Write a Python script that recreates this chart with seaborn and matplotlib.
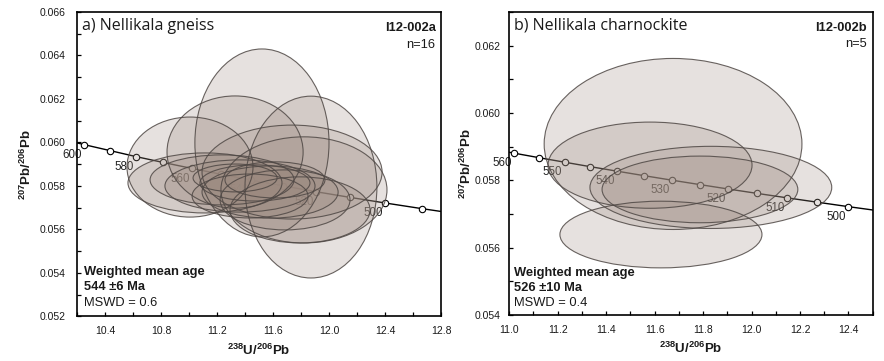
import matplotlib
matplotlib.use("Agg")
import matplotlib.pyplot as plt
from matplotlib.patches import Ellipse
from matplotlib.ticker import MultipleLocator, FormatStrFormatter
import seaborn as sns

# ---- Concordia reference curve (Tera-Wasserburg), age markers in Ma ----
conc_a_age = [610, 600, 590, 580, 570, 560, 550, 540, 530, 520, 510, 500, 490, 480]
conc_a_x = [10.076, 10.252, 10.434, 10.622, 10.817, 11.019, 11.228, 11.445, 11.670,
            11.904, 12.147, 12.399, 12.662, 12.936]
conc_a_y = [0.06018, 0.05990, 0.05963, 0.05935, 0.05908, 0.05881, 0.05854, 0.05827,
            0.05801, 0.05774, 0.05748, 0.05722, 0.05696, 0.05670]
conc_a_labels = [600, 580, 560, 540, 520, 500]

conc_b_age = [565, 560, 555, 550, 545, 540, 535, 530, 525, 520, 515, 510, 505, 500, 495]
conc_b_x = [10.917, 11.019, 11.122, 11.228, 11.335, 11.445, 11.556, 11.670, 11.786,
            11.904, 12.024, 12.147, 12.272, 12.399, 12.530]
conc_b_y = [0.058943, 0.058808, 0.058674, 0.058539, 0.058405, 0.058272, 0.058139,
            0.058006, 0.057874, 0.057742, 0.057611, 0.057480, 0.057350, 0.057219,
            0.057090]
conc_b_labels = [560, 550, 540, 530, 520, 510, 500]

# ---- Zircon spot ellipses: centre and half-axes (2 sigma) ----
# I12-002a, Nellikala gneiss (n=16)
gn_x = [11.521, 11.871, 11.329, 11.007, 11.736, 11.821, 11.114, 11.236,
        11.364, 11.471, 11.579, 11.436, 11.686, 11.614, 11.329, 11.793]
gn_y = [0.05998, 0.05795, 0.05956, 0.05887, 0.05864, 0.05782, 0.05814, 0.05828,
        0.05800, 0.05814, 0.05772, 0.05754, 0.05736, 0.05828, 0.05837, 0.05690]
gn_ex = [0.479, 0.471, 0.486, 0.450, 0.643, 0.593, 0.550, 0.514,
         0.536, 0.393, 0.486, 0.414, 0.464, 0.357, 0.300, 0.500]
gn_ey = [0.00432, 0.00418, 0.00258, 0.00230, 0.00216, 0.00244, 0.00138, 0.00115,
         0.00120, 0.00083, 0.00120, 0.00101, 0.00138, 0.00083, 0.00064, 0.00152]

# I12-002b, Nellikala charnockite (n=5)
ch_x = [11.676, 11.581, 11.832, 11.787, 11.626]
ch_y = [0.05908, 0.05845, 0.05779, 0.05773, 0.05639]
ch_ex = [0.532, 0.421, 0.499, 0.404, 0.417]
ch_ey = [0.00254, 0.00128, 0.00122, 0.00099, 0.00099]

sns.set_theme(style="ticks")
plt.rcParams["font.family"] = ["Liberation Sans", "DejaVu Sans"]
plt.rcParams["mathtext.fontset"] = "custom"
plt.rcParams["mathtext.rm"] = "Liberation Sans"
plt.rcParams["mathtext.bf"] = "Liberation Sans:bold"
plt.rcParams["text.color"] = "#1a1a1a"
plt.rcParams["axes.labelcolor"] = "#1a1a1a"
plt.rcParams["xtick.labelcolor"] = "#1a1a1a"
plt.rcParams["ytick.labelcolor"] = "#1a1a1a"

fig = plt.figure(figsize=(8.84, 3.61), dpi=100)
ax_a = fig.add_axes([0.0871, 0.1233, 0.4118, 0.8435])
ax_b = fig.add_axes([0.5761, 0.1274, 0.4111, 0.8394])

FACE = "#9c8a80"
EDGE = "#4f4845"


def concordia(ax, xs, ys, ages, labels):
    sns.lineplot(x=xs, y=ys, ax=ax, sort=False, color="black", lw=1.0,
                 marker="o", markersize=4.6, markerfacecolor="white",
                 markeredgecolor="black", markeredgewidth=0.8, zorder=1)
    for age, x, y in zip(ages, xs, ys):
        if age in labels:
            ax.annotate(str(age), (x, y), xytext=(-1.5, -3.0), textcoords="offset points",
                        ha="right", va="top", fontsize=8.3, color="#222222",
                        zorder=1, annotation_clip=True)


def ellipses(ax, xs, ys, exs, eys):
    for x, y, ex, ey in zip(xs, ys, exs, eys):
        ax.add_patch(Ellipse((x, y), 2 * ex, 2 * ey, facecolor=FACE, alpha=0.25,
                             edgecolor="none", zorder=2))
        ax.add_patch(Ellipse((x, y), 2 * ex, 2 * ey, facecolor="none",
                             edgecolor=EDGE, lw=0.8, alpha=0.85, zorder=3))


def style(ax, xlim, ylim, xmaj, xmin, ypad, xpad):
    ax.set_xlim(*xlim)
    ax.set_ylim(*ylim)
    ax.xaxis.set_major_locator(MultipleLocator(xmaj))
    ax.xaxis.set_minor_locator(MultipleLocator(xmin))
    ax.yaxis.set_major_locator(MultipleLocator(0.002))
    ax.yaxis.set_minor_locator(MultipleLocator(0.001))
    ax.xaxis.set_major_formatter(FormatStrFormatter("%.1f"))
    ax.yaxis.set_major_formatter(FormatStrFormatter("%.3f"))
    ax.tick_params(which="both", direction="in", length=2.6, width=0.9, color="black",
                   top=False, right=False)
    ax.tick_params(axis="y", which="major", labelsize=7.5, pad=ypad)
    ax.tick_params(axis="x", which="major", labelsize=7.5, pad=xpad)
    for s in ax.spines.values():
        s.set_linewidth(1.2)
        s.set_color("black")
        s.set_visible(True)
    ax.set_facecolor("white")
    ax.set_xlabel(r"$\mathbf{^{238}U/^{206}Pb}$", fontsize=9.5)
    ax.set_ylabel(r"$\mathbf{^{207}Pb/^{206}Pb}$", fontsize=9.5)


# ---- panel a ----
concordia(ax_a, conc_a_x, conc_a_y, conc_a_age, conc_a_labels)
ellipses(ax_a, gn_x, gn_y, gn_ex, gn_ey)
style(ax_a, (10.2, 12.8), (0.052, 0.066), 0.4, 0.2, ypad=8.5, xpad=7)
ax_a.xaxis.set_label_coords(0.5, -0.085)
ax_a.yaxis.set_label_coords(-0.118, 0.5)

ax_a.text(0.014, 0.955, "a) Nellikala gneiss", transform=ax_a.transAxes,
          fontsize=11.5, family=["Open Sans", "DejaVu Sans"], ha="left", va="center")
ax_a.text(0.985, 0.948, "I12-002a", transform=ax_a.transAxes, fontsize=9.3,
          fontweight="bold", ha="right", va="center")
ax_a.text(0.985, 0.893, "n=16", transform=ax_a.transAxes, fontsize=9.3,
          ha="right", va="center")
ax_a.text(0.019, 0.147, "Weighted mean age", transform=ax_a.transAxes, fontsize=9.3,
          fontweight="bold", ha="left", va="center")
ax_a.text(0.019, 0.097, "544 \u00b16 Ma", transform=ax_a.transAxes, fontsize=9.3,
          fontweight="bold", ha="left", va="center")
ax_a.text(0.019, 0.045, "MSWD = 0.6", transform=ax_a.transAxes, fontsize=9.3,
          ha="left", va="center")

# ---- panel b ----
concordia(ax_b, conc_b_x, conc_b_y, conc_b_age, conc_b_labels)
ellipses(ax_b, ch_x, ch_y, ch_ex, ch_ey)
style(ax_b, (11.0, 12.5), (0.054, 0.063), 0.2, 0.1, ypad=6.5, xpad=7)
ax_b.xaxis.set_label_coords(0.5, -0.085)
ax_b.yaxis.set_label_coords(-0.098, 0.5)

ax_b.text(0.014, 0.955, "b) Nellikala charnockite", transform=ax_b.transAxes,
          fontsize=11.5, family=["Open Sans", "DejaVu Sans"], ha="left", va="center")
ax_b.text(0.985, 0.948, "I12-002b", transform=ax_b.transAxes, fontsize=9.3,
          fontweight="bold", ha="right", va="center")
ax_b.text(0.985, 0.893, "n=5", transform=ax_b.transAxes, fontsize=9.3,
          ha="right", va="center")
ax_b.text(0.014, 0.14, "Weighted mean age", transform=ax_b.transAxes, fontsize=9.3,
          fontweight="bold", ha="left", va="center")
ax_b.text(0.014, 0.09, "526 \u00b110 Ma", transform=ax_b.transAxes, fontsize=9.3,
          fontweight="bold", ha="left", va="center")
ax_b.text(0.014, 0.04, "MSWD = 0.4", transform=ax_b.transAxes, fontsize=9.3,
          ha="left", va="center")

fig.savefig("out.png", dpi=100, facecolor="white")
